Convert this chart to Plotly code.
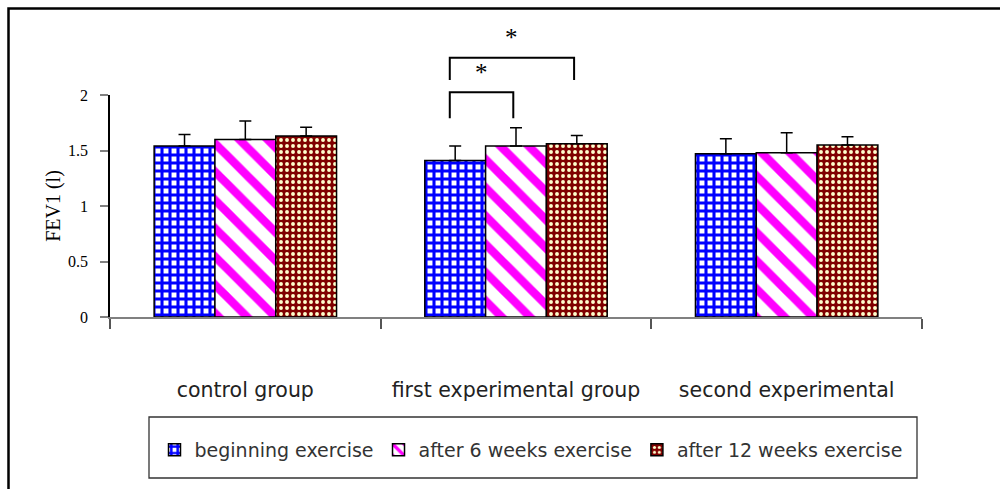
import plotly.graph_objects as go

# FEV1 (litres) per group at three measurement points, with SD shown as upper error bars
categories = ["control group", "first experimental group", "second experimental"]
series_names = ["beginning exercise", "after 6 weeks exercise", "after 12 weeks exercise"]
fev1_beginning = [1.54, 1.41, 1.47]
fev1_week6 = [1.60, 1.54, 1.48]
fev1_week12 = [1.63, 1.56, 1.55]
sd_beginning = [0.105, 0.13, 0.135]
sd_week6 = [0.165, 0.165, 0.18]
sd_week12 = [0.08, 0.075, 0.075]

# significance brackets in the first experimental group: (series from, series to, level, leg bottom, star level)
sig_brackets = [
    (0, 1, 2.024, 1.79, 2.20),
    (0, 2, 2.336, 2.135, 2.515),
]
sig_group = 1

W, H = 1000, 489
L, R, T, B = 110, 78, 95, 172
PW, PH = W - L - R, H - T - B
Y_MAX = 2.0
BARGAP = 0.326


def px_x(p):
    return (p - L) / PW


def px_y(p):
    return (H - B - p) / PH


styles = [
    dict(shape="+", fgcolor="#0000FF", bgcolor="#FFFFFF", size=8, solidity=0.62, fgopacity=1),
    dict(shape="\\", fgcolor="#FF00FF", bgcolor="#FFFFFF", size=20, solidity=0.42, fgopacity=1),
    dict(shape=".", fgcolor="#FFFFCC", bgcolor="#800000", size=6, solidity=0.33, fgopacity=1),
]
values = [fev1_beginning, fev1_week6, fev1_week12]
errors = [sd_beginning, sd_week6, sd_week12]

fig = go.Figure()
for name, vals, errs, pat in zip(series_names, values, errors, styles):
    fig.add_trace(go.Bar(
        x=categories, y=vals, name=name,
        marker=dict(color=pat["fgcolor"], pattern=pat,
                    line=dict(color="black", width=1.5)),
        error_y=dict(type="data", array=errs, arrayminus=[0] * len(errs),
                     symmetric=False, color="black", thickness=1.5, width=6),
    ))

# bar centre within a group for series k
bar_w = (1 - BARGAP) / len(series_names)


def bar_center(group, k):
    return group + (k - (len(series_names) - 1) / 2) * bar_w


shapes = []
annotations = []
for a, b, level, leg, star in sig_brackets:
    x0 = bar_center(sig_group, a) - 0.02
    x1 = bar_center(sig_group, b) - 0.01
    shapes.append(dict(
        type="path", xref="x", yref="paper",
        path=f"M {x0},{leg / Y_MAX} L {x0},{level / Y_MAX} L {x1},{level / Y_MAX} L {x1},{leg / Y_MAX}",
        line=dict(color="black", width=2),
    ))
    annotations.append(dict(
        x=(x0 + x1) / 2, y=star / Y_MAX, xref="x", yref="paper",
        text="*", showarrow=False, yanchor="middle",
        font=dict(family="Liberation Serif", size=25, color="black"),
    ))

# legend frame
shapes.append(dict(type="rect", xref="paper", yref="paper",
                   x0=px_x(149), x1=px_x(917), y0=px_y(478), y1=px_y(417),
                   line=dict(color="#333333", width=1.3), layer="below"))
# outer chart frame
shapes.append(dict(type="rect", xref="paper", yref="paper",
                   x0=px_x(8.5), x1=px_x(1100), y0=px_y(600), y1=px_y(8.5),
                   line=dict(color="black", width=2.5)))

fig.update_layout(
    width=W, height=H,
    margin=dict(l=L, r=R, t=T, b=B, autoexpand=False),
    paper_bgcolor="white", plot_bgcolor="white",
    barmode="group", bargap=BARGAP, bargroupgap=0,
    showlegend=True,
    legend=dict(orientation="h", x=px_x(531), xanchor="center",
                y=px_y(450), yanchor="middle",
                font=dict(family="DejaVu Sans", size=19, color="#333333"),
                bgcolor="rgba(0,0,0,0)", borderwidth=0, itemwidth=30,
                traceorder="normal"),
    shapes=shapes,
    annotations=annotations,
)
fig.update_xaxes(
    type="category", tickson="boundaries", ticks="outside", ticklen=10,
    tickwidth=1.5, tickcolor="#555555", showline=True, linecolor="#808080",
    linewidth=1.5, showgrid=False, zeroline=False,
    tickfont=dict(family="DejaVu Sans", size=20.5, color="#222222"),
    ticklabelstandoff=54,
)
fig.update_yaxes(
    range=[0, Y_MAX], tickvals=[0, 0.5, 1, 1.5, 2],
    ticktext=["0", "0.5", "1", "1.5", "2"],
    ticks="outside", ticklen=8, tickwidth=1.5, tickcolor="#808080",
    showline=True, linecolor="black", linewidth=1.5,
    showgrid=False, zeroline=False,
    tickfont=dict(family="Liberation Serif", size=16, color="black"),
    ticklabelstandoff=9,
    title=dict(text="FEV1 (l)", standoff=2,
               font=dict(family="Liberation Serif", size=20, color="black")),
)

fig.write_html("out.html")
